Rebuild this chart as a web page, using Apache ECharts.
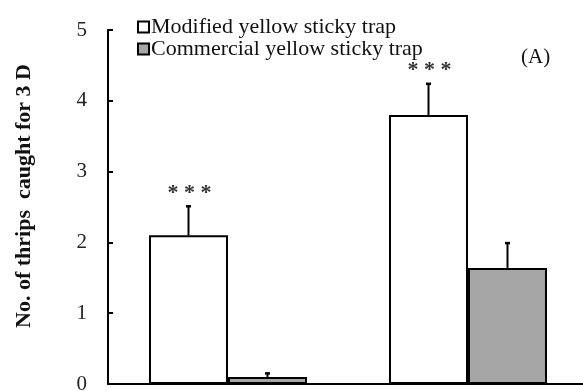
<!DOCTYPE html>
<html><head><meta charset="utf-8">
<script src="https://cdn.jsdelivr.net/npm/echarts@6/dist/echarts.min.js"></script>
<style>html,body{margin:0;padding:0;background:#fff}#c{width:583px;height:391px}</style>
</head><body><div id="c"></div>
<script>
const categories = ['Group 1', 'Group 2'];
const seriesNames = ['Modified yellow sticky trap', 'Commercial yellow sticky trap'];
const modifiedMean = [2.1, 3.8];
const modifiedErr = [0.41, 0.44];
const commercialMean = [0.1, 1.64];
const commercialErr = [0.05, 0.35];
const modifiedSig = ['* * *', '* * *'];
const commercialSig = ['', ''];
const yTicks = [0, 1, 2, 3, 4, 5];
const yAxisTitle = 'No. of thrips  caught for 3 D';
const panelLabel = '(A)';

const BW = 79;
const serif = '"Liberation Serif", "DejaVu Serif", serif';
const chart = echarts.init(document.getElementById('c'));

function errSeries(means, errs, sigs, side) {
  return {
    type: 'custom',
    z: 5,
    silent: true,
    data: means.map((m, i) => [i, m, m + errs[i]]),
    renderItem: function (params, api) {
      const base = api.coord([api.value(0), api.value(1)]);
      const top = api.coord([api.value(0), api.value(2)]);
      const x = base[0] + side * BW / 2;
      const children = [
        {type: 'line', shape: {x1: x, y1: base[1], x2: x, y2: top[1]}, style: {stroke: '#000', lineWidth: 2}},
        {type: 'line', shape: {x1: x - 2.5, y1: top[1], x2: x + 2.5, y2: top[1]}, style: {stroke: '#000', lineWidth: 2.5}}
      ];
      const sig = sigs[params.dataIndex];
      if (sig) {
        children.push({type: 'text', style: {text: sig, x: x + 1, y: top[1] - 24, align: 'center', verticalAlign: 'top', font: 'bold 22px ' + serif, fill: '#333'}});
      }
      return {type: 'group', children: children};
    }
  };
}

chart.setOption({
  animation: false,
  backgroundColor: '#fff',
  grid: {left: 108, top: 30, width: 480, bottom: 7, containLabel: false, outerBoundsMode: 'none'},
  legend: {
    orient: 'vertical', left: 132, top: 11, itemGap: 0,
    itemWidth: 11, itemHeight: 11, icon: 'rect',
    textStyle: {fontFamily: serif, fontSize: 22, lineHeight: 21, color: '#111', padding: [0, 0, 0, -3]},
    data: seriesNames
  },
  xAxis: {
    type: 'category', data: categories,
    axisLine: {lineStyle: {color: '#000', width: 2}},
    axisTick: {show: false}, axisLabel: {show: false}
  },
  yAxis: {
    type: 'value', min: 0, max: 5, interval: 1,
    axisLine: {show: true, lineStyle: {color: '#000', width: 2}},
    axisTick: {show: true, inside: true, length: 5, lineStyle: {color: '#000', width: 2}},
    axisLabel: {fontFamily: serif, fontSize: 21, color: '#222', margin: 21,
      formatter: v => yTicks.includes(v) ? String(v) : ''},
    splitLine: {show: false}
  },
  graphic: [
    {type: 'text', left: 521, top: 47, style: {text: panelLabel, font: '21px ' + serif, fill: '#111'}},
    {type: 'text', x: 24, y: 196, rotation: Math.PI / 2,
      style: {text: yAxisTitle, x: 0, y: 0, align: 'center', verticalAlign: 'middle', font: 'bold 22px ' + serif, fill: '#111'}}
  ],
  series: [
    {name: seriesNames[0], type: 'bar', data: modifiedMean, barWidth: BW, barGap: '0%',
      itemStyle: {color: '#fff', borderColor: '#000', borderWidth: 2}},
    {name: seriesNames[1], type: 'bar', data: commercialMean, barWidth: BW, barGap: '0%',
      itemStyle: {color: '#a6a6a6', borderColor: '#000', borderWidth: 2}},
    errSeries(modifiedMean, modifiedErr, modifiedSig, -1),
    errSeries(commercialMean, commercialErr, commercialSig, 1)
  ]
});
</script></body></html>
